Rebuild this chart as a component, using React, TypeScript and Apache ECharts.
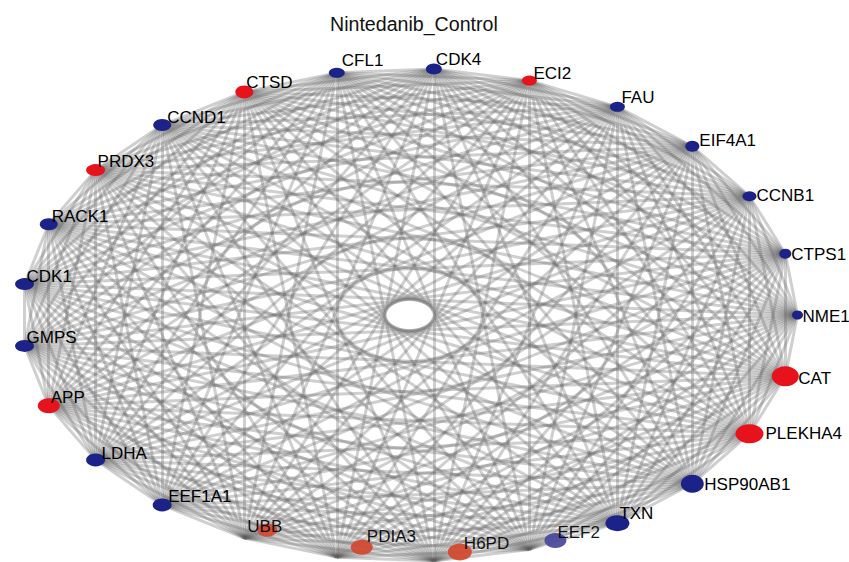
import React, { useEffect, useRef } from "react";
import * as echarts from "echarts";

// Nodes in circular-layout order (counter-clockwise starting at the right-hand side)
const nodeNames = [
  "NME1", "CTPS1", "CCNB1", "EIF4A1", "FAU", "ECI2", "CDK4", "CFL1", "CTSD",
  "CCND1", "PRDX3", "RACK1", "CDK1", "GMPS", "APP", "LDHA", "EEF1A1", "UBB",
  "PDIA3", "H6PD", "EEF2", "TXN", "HSP90AB1", "PLEKHA4", "CAT",
];
const regulation = [
  "down", "down", "down", "down", "down", "up", "down", "down", "up",
  "down", "up", "down", "down", "down", "up", "down", "down", "up",
  "up", "up", "down", "down", "down", "up", "up",
];
// every gene interacts with every other gene (complete network)
const edgePairs: [string, string][] = [];
for (let i = 0; i < nodeNames.length; i++)
  for (let j = i + 1; j < nodeNames.length; j++) edgePairs.push([nodeNames[i], nodeNames[j]]);

// ---- styles (sizes, label placement, symbol shifts) ----
const nodeStyle: Record<string, { size: [number, number]; label: [number, number]; shift?: [number, number]; faded?: boolean }> = {
  NME1: { size: [11, 9], label: [5, 1] },
  CTPS1: { size: [12, 10], label: [6, 1] },
  CCNB1: { size: [14, 10], label: [7, -1] },
  EIF4A1: { size: [14, 11], label: [7, -6] },
  FAU: { size: [15, 10], label: [4, -9] },
  ECI2: { size: [15, 10], label: [4, -7] },
  CDK4: { size: [16, 11], label: [2, -9] },
  CFL1: { size: [16, 10], label: [5, -12] },
  CTSD: { size: [18, 13], label: [2, -9] },
  CCND1: { size: [18, 12], label: [5, -8] },
  PRDX3: { size: [19, 12], label: [2, -9] },
  RACK1: { size: [18, 12], label: [3, -8] },
  CDK1: { size: [19, 12], label: [2, -8] },
  GMPS: { size: [19, 12], label: [2, -8] },
  APP: { size: [22, 15], label: [2, -8] },
  LDHA: { size: [19, 13], label: [6, -6] },
  EEF1A1: { size: [19, 13], label: [6, -8] },
  UBB: { size: [20, 13], label: [-20, -4], shift: [23, -8], faded: true },
  PDIA3: { size: [22, 15], label: [5, -11], shift: [25, -10], faded: true },
  H6PD: { size: [24, 17], label: [4, -9], shift: [26, -9], faded: true },
  EEF2: { size: [22, 15], label: [2, -8], shift: [26, -9], faded: true },
  TXN: { size: [24, 16], label: [2, -10] },
  HSP90AB1: { size: [23, 18], label: [12, 1] },
  PLEKHA4: { size: [28, 19], label: [16, 0] },
  CAT: { size: [27, 20], label: [13, 2] },
};
const colorMap: Record<string, string> = { up: "#e8121c", down: "#1c2388" };
const fadedColorMap: Record<string, string> = { up: "#d2472e", down: "#45489a" };

export default function App() {
  const ref = useRef<HTMLDivElement>(null);
  useEffect(() => {
    if (!ref.current) return;
    const chart = echarts.init(ref.current, null, { renderer: "svg" });
    const n = nodeNames.length;
    const nodes = nodeNames.map((name, i) => {
      const st = nodeStyle[name];
      const ang = (i * 2 * Math.PI) / n; // circular layout by order
      const [w, h] = st.size;
      const col = st.faded ? fadedColorMap[regulation[i]] : colorMap[regulation[i]];
      return {
        name,
        value: [Math.cos(ang), Math.sin(ang)],
        symbol: "circle",
        symbolSize: [w, h],
        symbolOffset: st.shift || [0, 0],
        itemStyle: { color: col, opacity: st.faded ? 0.92 : 1 },
        label: {
          show: true,
          position: [w / 2 + st.label[0], h / 2 + st.label[1]],
          align: "left",
          verticalAlign: "middle",
          color: "#000",
          fontSize: 17,
          fontFamily: "Liberation Sans, Arial, sans-serif",
          textBorderWidth: 0,
        },
      };
    });
    const links = edgePairs.map(([s, t]) => ({ source: s, target: t }));
    chart.setOption({
      animation: false,
      backgroundColor: "#fff",
      title: {
        text: "Nintedanib_Control",
        left: 325,
        top: 9,
        textStyle: {
          fontSize: 19.6,
          fontWeight: "normal",
          color: "#111",
          fontFamily: "Liberation Sans, Arial, sans-serif",
        },
      },
      grid: { left: 21.5, right: 51.5, top: 68.5, bottom: 0.5 },
      xAxis: { type: "value", min: -1, max: 1, show: false },
      yAxis: { type: "value", min: -1, max: 1, show: false },
      series: [
        {
          type: "graph",
          coordinateSystem: "cartesian2d",
          layout: "none",
          data: nodes,
          links,
          silent: true,
          lineStyle: { color: "rgba(95,95,95,0.3)", width: 3, curveness: 0, opacity: 1 },
          emphasis: { disabled: true },
        },
      ],
    });
    return () => chart.dispose();
  }, []);
  return <div ref={ref} style={{ position: "fixed", left: 0, top: 0, width: 849, height: 562 }} />;
}
